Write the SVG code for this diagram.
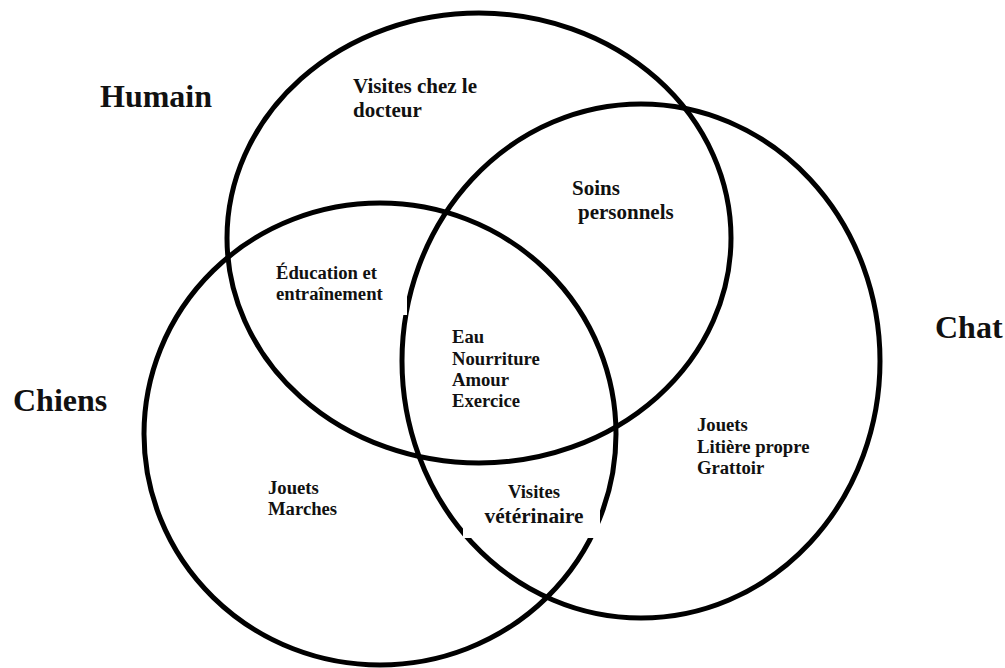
<svg xmlns="http://www.w3.org/2000/svg" width="1005" height="668" viewBox="0 0 1005 668">
<style>
.ring{fill:none;stroke:#000;stroke-width:5}
.t{font-family:"Liberation Serif","Times New Roman",serif;font-weight:bold;fill:#111}
.big{font-size:32px}
.mid{font-size:21px}
.sm{font-size:18.67px}
.mask{fill:#fff;stroke:none}
</style>
<rect x="0" y="0" width="1005" height="668" fill="#fff"/>
<g id="circles">
<g id="humain-circle"><ellipse class="ring" cx="479" cy="238" rx="252" ry="225"/></g>
<g id="chiens-circle"><ellipse class="ring" cx="380" cy="434" rx="236" ry="231"/></g>
<g id="chat-circle"><ellipse class="ring" cx="641" cy="361" rx="239" ry="257"/></g>
</g>
<g id="connectors"/>
<g id="humain-label"><text class="t big" x="100" y="107">Humain</text></g>
<g id="chiens-label"><text class="t big" x="13" y="411">Chiens</text></g>
<g id="chat-label"><text class="t big" x="935" y="338">Chat</text></g>
<g id="humain-only"><text class="t mid" x="353" y="93">Visites chez le</text><text class="t mid" x="353" y="117">docteur</text></g>
<g id="humain-chat"><text class="t mid" x="572" y="195">Soins</text><text class="t mid" x="578" y="219">personnels</text></g>
<g id="humain-chiens"><rect class="mask" x="265" y="255" width="142" height="60"/><text class="t sm" x="276" y="279">Éducation et</text><text class="t sm" x="276" y="300">entraînement</text></g>
<g id="all-three"><text class="t sm" x="452" y="343">Eau</text><text class="t sm" x="452" y="364.5">Nourriture</text><text class="t sm" x="452" y="386">Amour</text><text class="t sm" x="452" y="407">Exercice</text></g>
<g id="chiens-chat"><rect class="mask" x="463" y="470" width="137" height="68"/><text class="t sm" x="534" y="498" text-anchor="middle">Visites</text><text class="t" style="font-size:21.3px" x="534" y="523" text-anchor="middle">vétérinaire</text></g>
<g id="chiens-only"><text class="t sm" x="268" y="494">Jouets</text><text class="t sm" x="268" y="515">Marches</text></g>
<g id="chat-only"><text class="t sm" x="697" y="431">Jouets</text><text class="t sm" x="697" y="452.5">Litière propre</text><text class="t sm" x="697" y="474">Grattoir</text></g>
</svg>
